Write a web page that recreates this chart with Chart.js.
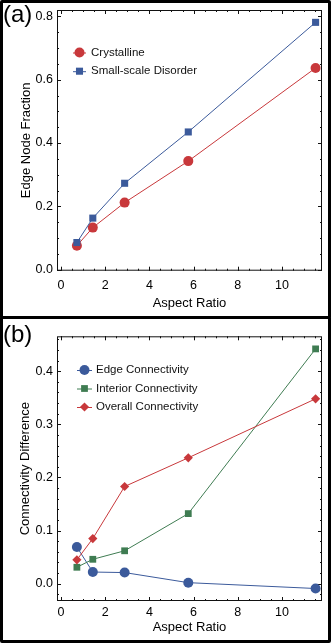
<!DOCTYPE html>
<html>
<head>
<meta charset="utf-8">
<script src="https://cdn.jsdelivr.net/npm/chart.js@4.4.1/dist/chart.umd.min.js"></script>
<style>
  body { margin: 0; background: #fff; width: 332px; height: 643px; overflow: hidden; position: relative; }
  .panel { position: absolute; left: 0; width: 331px; border: 3px solid #000; box-sizing: border-box; border-radius: 2px; }
  #pa { top: 0; height: 319px; }
  #pb { top: 316px; height: 327px; }
  canvas { display: block; }
</style>
</head>
<body>
<div class="panel" id="pa"><canvas id="chartA" width="325" height="313"></canvas></div>
<div class="panel" id="pb"><canvas id="chartB" width="325" height="321"></canvas></div>

<script>
// aspect ratios shared by both panels
const aspectRatio = [0.72, 1.44, 2.88, 5.76, 11.52];

// panel (a)
const crystalline = [0.076, 0.133, 0.212, 0.343, 0.637];
const smallScale = [0.086, 0.163, 0.273, 0.435, 0.781];

// panel (b)
const edgeConn = [0.069, 0.022, 0.021, 0.002, -0.009];
const interiorConn = [0.031, 0.046, 0.062, 0.132, 0.442];
const overallConn = [0.045, 0.085, 0.183, 0.237, 0.348];

// tick labels
const xTicks = [0, 2, 4, 6, 8, 10];
const yTicksA = [0, 0.2, 0.4, 0.6, 0.8];
const yTicksB = [0, 0.1, 0.2, 0.3, 0.4];

const FONT = "'Liberation Sans', Arial, Helvetica, sans-serif";
const RED = "#c8383b";
const BLUE = "#3b5a9b";
const GREEN = "#3f7c52";

function pts(ys) {
  return aspectRatio.map((x, i) => ({ x: x, y: ys[i] }));
}

function series(label, ys, color, style, radius, order) {
  return {
    label: label,
    data: pts(ys),
    showLine: true,
    borderColor: color,
    borderWidth: 1,
    backgroundColor: color,
    pointBackgroundColor: color,
    pointBorderWidth: 0,
    pointStyle: style,
    pointRadius: radius,
    pointHoverRadius: radius,
    clip: false,
    order: order
  };
}

// frame with inward ticks on all four sides (Mathematica style)
const frameTicks = {
  id: "frameTicks",
  beforeDatasetsDraw(chart, args, opts) {
    const { ctx, chartArea: a, scales } = chart;
    ctx.save();
    ctx.strokeStyle = "#111";
    ctx.lineWidth = 1;
    ctx.strokeRect(a.left + 0.5, a.top + 0.5, a.right - a.left - 1, a.bottom - a.top - 1);

    function marks(scale, step, len) {
      ctx.beginPath();
      for (let i = Math.ceil(scale.min / step - 1e-9); i * step <= scale.max + 1e-9; i++) {
        const p = Math.round(scale.getPixelForValue(i * step)) + 0.5;
        if (scale.isHorizontal()) {
          ctx.moveTo(p, a.bottom); ctx.lineTo(p, a.bottom - len);
          ctx.moveTo(p, a.top); ctx.lineTo(p, a.top + len);
        } else {
          ctx.moveTo(a.left, p); ctx.lineTo(a.left + len, p);
          ctx.moveTo(a.right, p); ctx.lineTo(a.right - len, p);
        }
      }
      ctx.stroke();
    }
    marks(scales.x, opts.xMajor, 4);
    marks(scales.x, opts.xMinor, 2);
    marks(scales.y, opts.yMajor, 4);
    marks(scales.y, opts.yMinor, 2);
    ctx.restore();
  }
};

// legend inside the plot + panel letter
const innerLegend = {
  id: "innerLegend",
  afterDraw(chart, args, opts) {
    const { ctx } = chart;
    ctx.save();
    opts.items.forEach((idx, row) => {
      const ds = chart.data.datasets[idx];
      const y = opts.y + row * opts.gap;
      ctx.strokeStyle = ds.borderColor;
      ctx.lineWidth = 1;
      ctx.beginPath();
      ctx.moveTo(opts.x0, y + 0.5);
      ctx.lineTo(opts.x1, y + 0.5);
      ctx.stroke();
      ctx.fillStyle = ds.pointBackgroundColor;
      Chart.helpers.drawPoint(ctx, { pointStyle: ds.pointStyle, radius: ds.pointRadius, rotation: 0, borderWidth: 0 }, (opts.x0 + opts.x1) / 2, y);
      ctx.fillStyle = "#111";
      ctx.font = "11.5px " + FONT;
      ctx.textBaseline = "middle";
      ctx.textAlign = "left";
      ctx.fillText(ds.label, opts.tx, y);
    });
    ctx.fillStyle = "#000";
    ctx.font = "24px " + FONT;
    ctx.textBaseline = "alphabetic";
    ctx.fillText(opts.letter, 0, opts.letterY);
    ctx.restore();
  }
};

function makeChart(id, datasets, cfg) {
  return new Chart(document.getElementById(id), {
    type: "scatter",
    data: { datasets: datasets },
    options: {
      responsive: false,
      devicePixelRatio: 1,
      animation: false,
      events: [],
      layout: { padding: { left: 0, top: cfg.top, right: 6, bottom: 0 } },
      plugins: {
        legend: { display: false },
        tooltip: { enabled: false },
        frameTicks: cfg.ticks,
        innerLegend: cfg.legend
      },
      scales: {
        x: {
          type: "linear",
          min: -0.18,
          max: 11.81,
          grid: { display: false, drawTicks: false },
          border: { display: false },
          afterBuildTicks: s => { s.ticks = xTicks.map(v => ({ value: v })); },
          afterFit: s => { s.height = cfg.xHeight; s.paddingLeft = 0; s.paddingRight = 0; },
          ticks: {
            padding: cfg.xPad,
            color: "#000",
            maxRotation: 0,
            font: { family: FONT, size: 12.5 },
            callback: v => String(v)
          },
          title: {
            display: true,
            text: "Aspect Ratio",
            color: "#000",
            font: { family: FONT, size: 13 },
            padding: { top: 0, bottom: 5 }
          }
        },
        y: {
          type: "linear",
          min: cfg.yMin,
          max: cfg.yMax,
          grid: { display: false, drawTicks: false },
          border: { display: false },
          afterBuildTicks: s => { s.ticks = cfg.yTicks.map(v => ({ value: v })); },
          afterFit: s => { s.width = 54; s.paddingTop = 0; s.paddingBottom = 0; },
          ticks: {
            padding: 4,
            color: "#000",
            font: { family: FONT, size: 12.5 },
            callback: v => v.toFixed(1)
          },
          title: {
            display: true,
            text: cfg.yTitle,
            color: "#000",
            font: { family: FONT, size: 13 },
            padding: { top: cfg.yTitlePad, bottom: 0 }
          }
        }
      }
    },
    plugins: [frameTicks, innerLegend]
  });
}

makeChart("chartA", [
  series("Crystalline", crystalline, RED, "circle", 5, 2),
  series("Small-scale Disorder", smallScale, BLUE, "rect", 5, 1)
], {
  top: 7,
  xHeight: 45.3,
  xPad: 7,
  yMin: -0.003,
  yMax: 0.82,
  yTicks: yTicksA,
  yTitle: "Edge Node Fraction",
  yTitlePad: 16,
  ticks: { xMajor: 2, xMinor: 0.5, yMajor: 0.2, yMinor: 0.05 },
  legend: { items: [0, 1], x0: 70, x1: 83, tx: 88, y: 49.5, gap: 18.7, letter: "(a)", letterY: 19 }
});

makeChart("chartB", [
  series("Edge Connectivity", edgeConn, BLUE, "circle", 5, 3),
  series("Interior Connectivity", interiorConn, GREEN, "rect", 4.8, 2),
  series("Overall Connectivity", overallConn, RED, "rectRot", 4.6, 1)
], {
  top: 17.3,
  xHeight: 39,
  xPad: 4,
  yMin: -0.0325,
  yMax: 0.4657,
  yTicks: yTicksB,
  yTitle: "Connectivity Difference",
  yTitlePad: 15,
  ticks: { xMajor: 2, xMinor: 0.5, yMajor: 0.1, yMinor: 0.02 },
  legend: { items: [0, 1, 2], x0: 74, x1: 89, tx: 93, y: 51, gap: 18.5, letter: "(b)", letterY: 23 }
});
</script>
</body>
</html>
